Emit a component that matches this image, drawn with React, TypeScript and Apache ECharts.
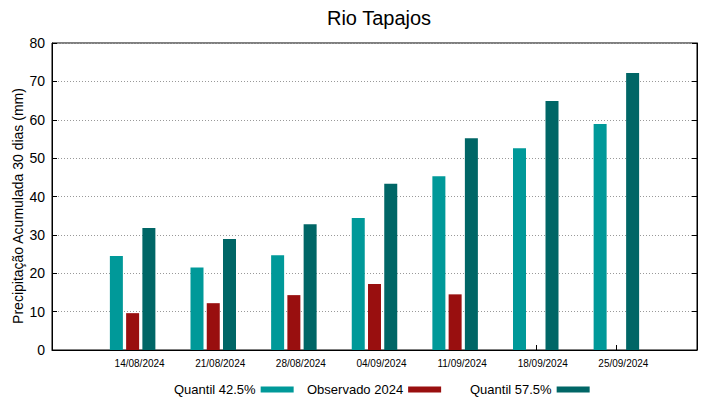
import React, { useEffect, useRef } from "react";
import * as echarts from "echarts";

const dates = ["14/08/2024", "21/08/2024", "28/08/2024", "04/09/2024", "11/09/2024", "18/09/2024", "25/09/2024"];
const quantil425 = [24.5, 21.5, 24.7, 34.4, 45.3, 52.6, 58.9];
const observado2024: (number | null)[] = [9.6, 12.2, 14.3, 17.2, 14.5, null, null];
const quantil575 = [31.8, 28.9, 32.8, 43.3, 55.2, 64.9, 72.2];
const yTicks = [0, 10, 20, 30, 40, 50, 60, 70, 80];

const FONT = "Liberation Sans, Arial, sans-serif";

export default function App() {
  const ref = useRef<HTMLDivElement>(null);
  useEffect(() => {
    if (!ref.current) return;
    const chart = echarts.init(ref.current, undefined, { renderer: "svg" });
    const cats = ["", ...dates, ""];
    const pad = (arr: (number | null)[]) => [null, ...arr, null];
    const yMax = yTicks[yTicks.length - 1];
    chart.setOption({
      animation: false,
      textStyle: { fontFamily: FONT },
      title: {
        text: "Rio Tapajos",
        left: 374,
        textAlign: "center",
        top: 3,
        textStyle: { fontFamily: FONT, fontSize: 20, fontWeight: "normal", color: "#000" },
      },
      grid: {
        left: 52,
        right: 22,
        top: 43,
        bottom: 49,
        show: true,
        borderColor: "#000",
        borderWidth: 1,
        backgroundColor: "transparent",
      },
      legend: [
        { name: "Quantil 42.5%", id: "l1" },
        { name: "Observado 2024", id: "l2" },
        { name: "Quantil 57.5%", id: "l3" },
      ].map((l, i) => ({
        id: l.id,
        data: [l.name],
        left: [169, 302, 465][i],
        top: 378,
        align: "right",
        itemWidth: 33,
        itemHeight: 6,
        icon: "rect",
        selectedMode: false,
        textStyle: { fontFamily: FONT, fontSize: 13, color: "#000" },
      })),
      xAxis: {
        type: "category",
        data: cats,
        boundaryGap: false,
        axisLine: { show: true, lineStyle: { color: "#000" } },
        axisTick: {
          show: true,
          inside: true,
          length: 5,
          lineStyle: { color: "#000" },
          interval: (idx: number) => idx > 0 && idx < cats.length - 1,
        },
        axisLabel: {
          interval: 0,
          fontFamily: FONT,
          fontSize: 10,
          color: "#000",
          margin: 8,
          padding: [0, 0, 0, 14],
        },
        splitLine: { show: false },
      },
      yAxis: [
        {
          type: "value",
          min: 0,
          max: yMax,
          interval: 10,
          axisLine: { show: true, lineStyle: { color: "#000" } },
          axisTick: { show: true, inside: true, length: 5, lineStyle: { color: "#000" } },
          axisLabel: { fontFamily: FONT, fontSize: 14, color: "#000", margin: 7 },
          splitLine: { show: true, lineStyle: { color: "#999", type: [1, 2], width: 1 } },
        },
        {
          type: "value",
          position: "right",
          min: 0,
          max: yMax,
          interval: 10,
          axisLine: { show: true, lineStyle: { color: "#000" } },
          axisTick: { show: true, inside: true, length: 5, lineStyle: { color: "#000" } },
          axisLabel: { show: false },
          splitLine: { show: false },
        },
      ],
      graphic: [
        {
          type: "text",
          x: 18,
          y: 206,
          rotation: Math.PI / 2,
          style: {
            text: "Precipitação Acumulada 30 dias (mm)",
            fontFamily: FONT,
            fontSize: 14,
            fill: "#000",
            textAlign: "center",
            textVerticalAlign: "middle",
          },
        },
      ],
      series: [
        {
          name: "Quantil 42.5%",
          type: "bar",
          data: pad(quantil425),
          barWidth: 13,
          barGap: "25%",
          itemStyle: { color: "#009999" },
        },
        {
          name: "Observado 2024",
          type: "bar",
          data: pad(observado2024),
          barWidth: 13,
          barGap: "25%",
          itemStyle: { color: "#990f0f" },
        },
        {
          name: "Quantil 57.5%",
          type: "bar",
          data: pad(quantil575),
          barWidth: 13,
          barGap: "25%",
          itemStyle: { color: "#006666" },
        },
      ],
    });
    return () => chart.dispose();
  }, []);
  return <div ref={ref} style={{ width: 719, height: 399, position: "absolute", left: 0, top: 0 }} />;
}
